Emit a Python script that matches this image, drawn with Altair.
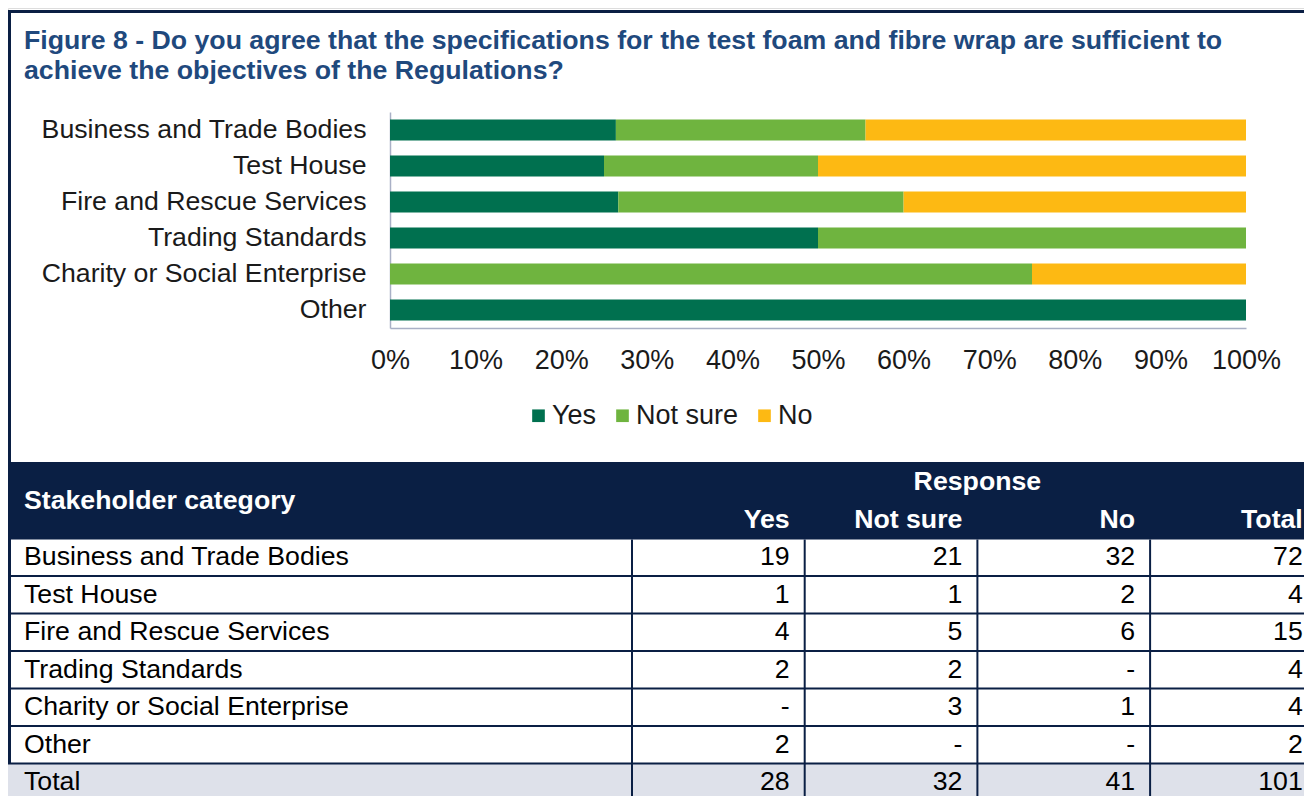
import altair as alt
import pandas as pd

# ---------------- data ----------------
categories = ["Business and Trade Bodies", "Test House", "Fire and Rescue Services",
              "Trading Standards", "Charity or Social Enterprise", "Other"]
responses = ["Yes", "Not sure", "No"]
yes_counts = [19, 1, 4, 2, 0, 2]
not_sure_counts = [21, 1, 5, 2, 3, 0]
no_counts = [32, 2, 6, 0, 1, 0]
x_ticks = [0.0, 0.1, 0.2, 0.3, 0.4, 0.5, 0.6, 0.7, 0.8, 0.9, 1.0]
response_colors = ["#00704F", "#6FB43F", "#FDB913"]
title_lines = [
    "Figure 8 - Do you agree that the specifications for the test foam and fibre wrap are sufficient to",
    "achieve the objectives of the Regulations?",
]
table_columns = ["Yes", "Not sure", "No", "Total"]
table_row_header = "Stakeholder category"
table_group_header = "Response"
total_label = "Total"

# ---------------- styling ----------------
W, H = 1296, 788
FONT = "Liberation Sans"
NAVY = "#0A1F44"
TITLE_BLUE = "#1F497D"
AXIS_GREY = "#A9B0C6"
TOTAL_BG = "#DEE1EA"
FS = 26.7

# ---------------- bar chart ----------------
series = [yes_counts, not_sure_counts, no_counts]
bar_rows = []
for i, c in enumerate(categories):
    for j, r in enumerate(responses):
        bar_rows.append({"category": c, "response": r, "order": j, "count": series[j][i]})
bar_df = pd.DataFrame(bar_rows)

bars = alt.Chart(bar_df).mark_bar().encode(
    x=alt.X("count:Q", stack="normalize",
            scale=alt.Scale(domain=[0, 1], range=[382, 1238], nice=False),
            axis=alt.Axis(values=x_ticks, format="%", title=None, grid=False,
                          ticks=False, tickSize=0, labelFontSize=27, labelFont=FONT,
                          labelColor="#1a1a1a", labelPadding=19, labelFlush=False,
                          labelOverlap=False, domainColor=AXIS_GREY, domainWidth=1.5,
                          offset=-(H - 320))),
    y=alt.Y("category:N",
            scale=alt.Scale(domain=categories, range=[104, 320],
                            paddingInner=0.417, paddingOuter=0.2085),
            axis=alt.Axis(title=None, ticks=False, tickSize=0, labelFontSize=FS,
                          labelFont=FONT, labelColor="#1a1a1a", labelPadding=24,
                          labelLimit=500, domainColor=AXIS_GREY, domainWidth=1.5,
                          offset=-382)),
    color=alt.Color("response:N",
                    scale=alt.Scale(domain=responses, range=response_colors),
                    legend=alt.Legend(orient="none", legendX=517, legendY=394,
                                      direction="horizontal", title=None,
                                      symbolType="square", symbolSize=160,
                                      symbolStrokeWidth=0, labelFontSize=27,
                                      labelFont=FONT, labelColor="#1a1a1a",
                                      labelOffset=0, columnPadding=12, padding=0)),
    order=alt.Order("order:Q"),
)

# ---------------- frame & title ----------------
one = pd.DataFrame({"k": [0]})
frame_top = alt.Chart(one).mark_rule(color=NAVY, strokeWidth=3).encode(
    x=alt.value(0), x2=alt.value(W), y=alt.value(3.5))
frame_left = alt.Chart(one).mark_rule(color=NAVY, strokeWidth=3).encode(
    x=alt.value(1.5), y=alt.value(2), y2=alt.value(H))
title = alt.Chart(one).mark_text(
    text=title_lines, align="left", baseline="alphabetic", font=FONT,
    fontSize=26.7, fontWeight="bold", color=TITLE_BLUE, lineHeight=30,
).encode(x=alt.value(16), y=alt.value(41))

# ---------------- table ----------------
row_keys = ["h1", "h2"] + categories + [total_label]
ty = alt.Scale(domain=row_keys, range=[455.5, 793], paddingInner=0, paddingOuter=0)
tx = alt.Scale(domain=table_columns, range=[624, 1314.8], paddingInner=0, paddingOuter=0)

totals = [a + b + c for a, b, c in zip(yes_counts, not_sure_counts, no_counts)]
col_totals = [sum(yes_counts), sum(not_sure_counts), sum(no_counts), sum(totals)]
cells = []
for i, c in enumerate(categories):
    vals = [yes_counts[i], not_sure_counts[i], no_counts[i], totals[i]]
    for col, v in zip(table_columns, vals):
        cells.append({"row": c, "col": col, "label": str(v) if v else "-"})
for col, v in zip(table_columns, col_totals):
    cells.append({"row": total_label, "col": col, "label": str(v)})
cells_df = pd.DataFrame(cells)

header_bg = alt.Chart(one).mark_rect(color=NAVY).encode(
    x=alt.value(0), x2=alt.value(W), y=alt.value(454), y2=alt.value(531.5))
total_bg = alt.Chart(pd.DataFrame({"row": [total_label]})).mark_rect(color=TOTAL_BG).encode(
    y=alt.Y("row:N", scale=ty, axis=None), x=alt.value(0), x2=alt.value(W))
h_lines = alt.Chart(pd.DataFrame({"row": categories[1:] + [total_label]})).mark_rule(
    color=NAVY, strokeWidth=2).encode(
    y=alt.Y("row:N", scale=ty, bandPosition=0, axis=None), x=alt.value(0), x2=alt.value(W))
v_lines = alt.Chart(pd.DataFrame({"col": table_columns})).mark_rule(
    color=NAVY, strokeWidth=2).encode(
    x=alt.X("col:N", scale=tx, bandPosition=0, axis=None), y=alt.value(531.5), y2=alt.value(H))


def cell_layer(dx, keep_total):
    test = "datum.col == 'Total'" if keep_total else "datum.col != 'Total'"
    return alt.Chart(cells_df).transform_filter(test).mark_text(
        align="right", baseline="middle", dx=dx, font=FONT, fontSize=FS,
        color="#000000").encode(
        x=alt.X("col:N", scale=tx, bandPosition=1, axis=None),
        y=alt.Y("row:N", scale=ty, axis=None),
        text="label:N")


def head_layer(dx, keep_total):
    cols = [c for c in table_columns if (c == "Total") == keep_total]
    return alt.Chart(pd.DataFrame({"col": cols, "row": ["h2"] * len(cols)})).mark_text(
        align="right", baseline="middle", dx=dx, font=FONT, fontSize=FS,
        fontWeight="bold", color="#FFFFFF").encode(
        x=alt.X("col:N", scale=tx, bandPosition=1, axis=None),
        y=alt.Y("row:N", scale=ty, axis=None), text="col:N")


row_text = alt.Chart(pd.DataFrame({"row": categories + [total_label]})).mark_text(
    align="left", baseline="middle", font=FONT, fontSize=FS, color="#000000").encode(
    x=alt.value(16), y=alt.Y("row:N", scale=ty, axis=None), text="row:N")
group_head = alt.Chart(pd.DataFrame({"col": ["No"], "row": ["h1"], "t": [table_group_header]})).mark_text(
    align="center", baseline="middle", font=FONT, fontSize=FS,
    fontWeight="bold", color="#FFFFFF").encode(
    x=alt.X("col:N", scale=tx, bandPosition=0, axis=None),
    y=alt.Y("row:N", scale=ty, axis=None), text="t:N")
stake_head = alt.Chart(pd.DataFrame({"row": ["h2"], "t": [table_row_header]})).mark_text(
    align="left", baseline="middle", font=FONT, fontSize=FS,
    fontWeight="bold", color="#FFFFFF").encode(
    x=alt.value(16), y=alt.Y("row:N", scale=ty, bandPosition=0, axis=None), text="t:N")

table = alt.layer(header_bg, total_bg, h_lines, v_lines,
                  cell_layer(-15, False), cell_layer(-20, True), row_text,
                  head_layer(-15, False), head_layer(-20, True), group_head, stake_head)

chart = alt.layer(frame_top, frame_left, title, bars, table).resolve_scale(
    x="independent", y="independent"
).properties(
    width=W, height=H, autosize=alt.AutoSizeParams(type="none"), padding=0,
    background="#FFFFFF"
).configure_view(stroke=None).configure(font=FONT)

chart.save("out.html", embed_options={"renderer": "svg", "actions": False})
